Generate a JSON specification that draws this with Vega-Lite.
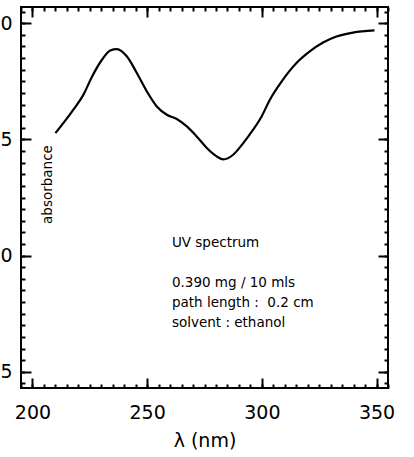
{
  "$schema": "https://vega.github.io/schema/vega-lite/v6.json",
  "width": 367,
  "height": 381,
  "autosize": {"type": "none"},
  "padding": {"left": 21, "top": 7, "right": 26, "bottom": 69},
  "background": "white",
  "config": {
    "view": {"stroke": "black", "strokeWidth": 2},
    "font": "DejaVu Sans",
    "axis": {"grid": false, "domain": false, "tickColor": "black", "labelColor": "black", "titleColor": "black", "labelFont": "DejaVu Sans", "titleFont": "DejaVu Sans"}
  },
  "datasets": {
    "curve": [
      {"nm": 210.0, "a": 0.473},
      {"nm": 218.0, "a": 0.370},
      {"nm": 222.3, "a": 0.306},
      {"nm": 226.0, "a": 0.229},
      {"nm": 230.3, "a": 0.157},
      {"nm": 233.9, "a": 0.117},
      {"nm": 236.8, "a": 0.111},
      {"nm": 241.2, "a": 0.143},
      {"nm": 245.5, "a": 0.214},
      {"nm": 249.9, "a": 0.294},
      {"nm": 254.2, "a": 0.358},
      {"nm": 258.6, "a": 0.394},
      {"nm": 262.9, "a": 0.412},
      {"nm": 267.3, "a": 0.444},
      {"nm": 271.6, "a": 0.487},
      {"nm": 276.0, "a": 0.537},
      {"nm": 280.3, "a": 0.573},
      {"nm": 283.2, "a": 0.586},
      {"nm": 287.5, "a": 0.566},
      {"nm": 291.9, "a": 0.516},
      {"nm": 296.2, "a": 0.458},
      {"nm": 299.9, "a": 0.401},
      {"nm": 303.5, "a": 0.329},
      {"nm": 308.6, "a": 0.251},
      {"nm": 315.1, "a": 0.171},
      {"nm": 320.9, "a": 0.121},
      {"nm": 326.7, "a": 0.083},
      {"nm": 332.5, "a": 0.057},
      {"nm": 339.7, "a": 0.040},
      {"nm": 349.1, "a": 0.031}
    ],
    "notes": [
      {"text": "spectrum conditions"}
    ]
  },
  "layer": [
    {
      "data": {"name": "curve"},
      "mark": {"type": "line", "color": "black", "strokeWidth": 2.2, "interpolate": "monotone"},
      "encoding": {
        "x": {
          "field": "nm", "type": "quantitative",
          "scale": {"domain": [195, 355], "nice": false, "zero": false},
          "axis": {"orient": "bottom", "values": [200, 250, 300, 350], "tickSize": -10, "tickWidth": 2, "labelFontSize": 19, "labelPadding": 25, "labelFlush": false, "title": "λ (nm)", "titleFontSize": 19, "titleFontWeight": "normal", "titleY": 52, "titleBaseline": "middle"}
        },
        "y": {
          "field": "a", "type": "quantitative",
          "scale": {"domain": [-0.07, 1.57], "nice": false, "zero": false, "reverse": true},
          "axis": {"orient": "left", "values": [0, 0.5, 1, 1.5], "format": ".1f", "labelExpr": "slice(datum.label, -1)", "tickSize": -10, "tickWidth": 2, "labelFontSize": 19, "labelPadding": 19, "labelBaseline": "middle", "title": "absorbance", "titleFontSize": 13.5, "titleFontWeight": "normal", "titleAngle": 270, "titleX": 26, "titleY": 177, "titleAlign": "center", "titleBaseline": "middle"}
        }
      }
    },
    {
      "data": {"name": "curve"},
      "mark": {"type": "line", "opacity": 0},
      "encoding": {
        "x": {"field": "nm", "type": "quantitative", "axis": {"orient": "bottom", "values": [195,200,205,210,215,220,225,230,235,240,245,250,255,260,265,270,275,280,285,290,295,300,305,310,315,320,325,330,335,340,345,350,355], "tickSize": -4, "tickWidth": 2, "labels": false, "title": null}},
        "y": {"field": "a", "type": "quantitative", "axis": {"orient": "left", "values": [-0.05,0,0.05,0.1,0.15,0.2,0.25,0.3,0.35,0.4,0.45,0.5,0.55,0.6,0.65,0.7,0.75,0.8,0.85,0.9,0.95,1,1.05,1.1,1.15,1.2,1.25,1.3,1.35,1.4,1.45,1.5,1.55], "tickSize": -4, "tickWidth": 2, "labels": false, "title": null}}
      }
    },
    {
      "data": {"name": "curve"},
      "mark": {"type": "line", "opacity": 0},
      "encoding": {
        "x": {"field": "nm", "type": "quantitative", "axis": {"orient": "top", "values": [200, 250, 300, 350], "tickSize": -10, "tickWidth": 2, "labels": false, "title": null}},
        "y": {"field": "a", "type": "quantitative", "axis": {"orient": "right", "values": [0, 0.5, 1, 1.5], "tickSize": -10, "tickWidth": 2, "labels": false, "title": null}}
      }
    },
    {
      "data": {"name": "curve"},
      "mark": {"type": "line", "opacity": 0},
      "encoding": {
        "x": {"field": "nm", "type": "quantitative", "axis": {"orient": "top", "values": [195,200,205,210,215,220,225,230,235,240,245,250,255,260,265,270,275,280,285,290,295,300,305,310,315,320,325,330,335,340,345,350,355], "tickSize": -4, "tickWidth": 2, "labels": false, "title": null}},
        "y": {"field": "a", "type": "quantitative", "axis": {"orient": "right", "values": [-0.05,0,0.05,0.1,0.15,0.2,0.25,0.3,0.35,0.4,0.45,0.5,0.55,0.6,0.65,0.7,0.75,0.8,0.85,0.9,0.95,1,1.05,1.1,1.15,1.2,1.25,1.3,1.35,1.4,1.45,1.5,1.55], "tickSize": -4, "tickWidth": 2, "labels": false, "title": null}}
      }
    },
    {
      "data": {"name": "notes"},
      "mark": {"type": "text", "text": "UV spectrum", "align": "left", "baseline": "middle", "fontSize": 13.5, "font": "DejaVu Sans", "color": "black"},
      "encoding": {
        "x": {"datum": 260.8, "type": "quantitative", "axis": null},
        "y": {"datum": 0.945, "type": "quantitative", "axis": null}
      }
    },
    {
      "data": {"name": "notes"},
      "mark": {"type": "text", "text": ["0.390 mg / 10 mls", "path length :\u00a0\u00a00.2 cm", "solvent : ethanol"], "align": "left", "baseline": "middle", "lineHeight": 20, "fontSize": 13.5, "font": "DejaVu Sans", "color": "black"},
      "encoding": {
        "x": {"datum": 260.8, "type": "quantitative", "axis": null},
        "y": {"datum": 1.117, "type": "quantitative", "axis": null}
      }
    }
  ],
  "resolve": {"axis": {"x": "independent", "y": "independent"}}
}
